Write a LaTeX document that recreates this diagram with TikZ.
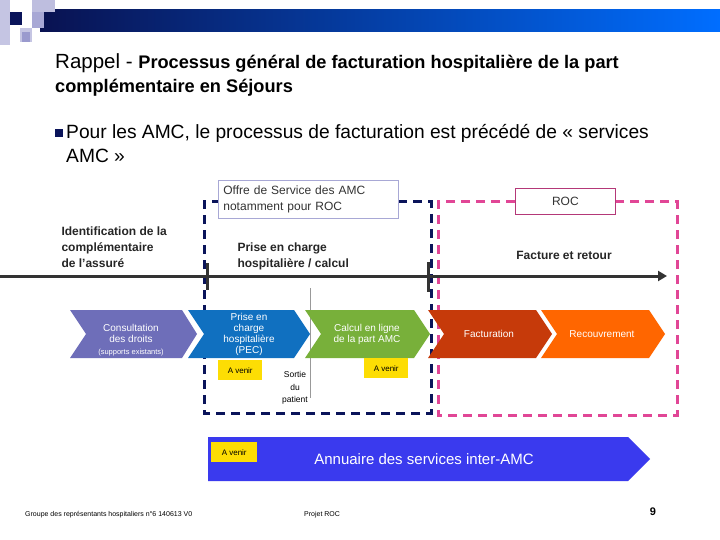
\documentclass[tikz,border=0pt]{standalone}
\usepackage{fontspec}
\usetikzlibrary{arrows.meta}
\setmainfont{Liberation Sans}
\begin{document}
\begin{tikzpicture}[x=1pt,y=-1pt,
  note/.style={fill=yellow!80!orange,draw=none,font=\fontsize{8}{9}\selectfont,inner sep=0pt,minimum width=44pt,minimum height=20pt},
  ctext/.style={text=white,align=center,font=\fontsize{10}{11}\selectfont},
  lab/.style={font=\bfseries\fontsize{12}{16}\selectfont,align=left,anchor=west,text=black!85},
  tick/.style={line width=3pt,draw=black!80}]
\definecolor{navy}{RGB}{10,20,90}
\definecolor{pinkd}{RGB}{225,70,150}
\definecolor{cpurple}{RGB}{110,110,185}
\definecolor{cblue}{RGB}{16,112,192}
\definecolor{cgreen}{RGB}{120,176,58}
\definecolor{cred}{RGB}{198,58,10}
\definecolor{corange}{RGB}{255,102,0}
\definecolor{annu}{RGB}{58,58,238}
\useasboundingbox (0,0) rectangle (720,540);
\fill[white] (0,0) rectangle (720,540);
% top bar
\shade[left color=navy!90!black,right color={rgb,255:red,0;green,110;blue,255}] (40,10) rectangle (720,32);
\fill[cpurple!40] (0,0) rectangle (10,45);
\fill[navy] (10,12) rectangle (22,25);
\fill[cpurple!45] (32,0) rectangle (55,12);
\fill[cpurple!60] (32,12) rectangle (44,28);
\fill[cpurple!40] (20,28) rectangle (32,42);
\fill[cpurple!70] (22,32) rectangle (30,42);
% title
\node[anchor=west,inner sep=0pt] (t1) at (55,63) {\fontsize{20.5}{22}\selectfont Rappel - \bfseries\fontsize{18.2}{20}\selectfont Processus général de facturation hospitalière de la part};
\node[anchor=west,inner sep=0pt] (t2) at (55,88) {\bfseries\fontsize{18.2}{20}\selectfont complémentaire en Séjours};
\fill[navy] (55,129) rectangle (63,137);
\node[anchor=west,inner sep=0pt] (b1) at (66,133) {\fontsize{19.2}{20}\selectfont Pour les AMC, le processus de facturation est précédé de « services};
\node[anchor=west,inner sep=0pt] (b2) at (66,156) {\fontsize{19.2}{20}\selectfont AMC »};
% dashed frames
\draw[navy,line width=3pt,dash pattern=on 9pt off 6pt] (398,202) -- (431,202) -- (431,413) -- (204,413) -- (204,202) -- (218,202);
\draw[pinkd,line width=3pt,dash pattern=on 9pt off 6pt] (515,202) -- (438,202) -- (438,415) -- (677,415) -- (677,202) -- (615,202);
\node[draw=cpurple!60,fill=white,line width=0.8pt,minimum width=180pt,minimum height=38pt,inner sep=5pt,align=left,anchor=north west,text width=170pt,font=\fontsize{12}{16}\selectfont,text=black!80] (offre) at (218,180) {Offre de Service des AMC\\notamment pour ROC};
\node[draw=pinkd!80!black,fill=white,line width=0.8pt,minimum width=100pt,minimum height=26pt,anchor=north west,font=\fontsize{12}{14}\selectfont,text=black!80] (roc) at (515,188) {ROC};
% timeline
\coordinate (ts) at (0,276);
\coordinate (te) at (667,276);
\draw[line width=3pt,black!80,-{Triangle[length=9pt,width=10pt]}] (ts) -- (te);
\draw[tick] (207,263) -- (207,290);
\draw[tick] (428,262) -- (428,292);
\node[lab] (id) at (58,247) {Identification de la\\complémentaire\\de l’assuré};
\node[lab] (pc) at (234,256) {Prise en charge\\hospitalière  / calcul};
\node[font=\bfseries\fontsize{12}{16}\selectfont,text=black!85] (fr) at (564,255) {Facture et retour};
% sortie line
\draw[black!40,line width=0.8pt] (310,288) -- (310,398);
\node[align=center,font=\fontsize{8.5}{12.5}\selectfont] (sortie) at (295,388) {Sortie\\du\\patient};
% chevrons
\fill[cpurple] (70,310) -- (182,310) -- (197,334) -- (182,358) -- (70,358) -- (86,334) -- cycle;
\fill[cblue] (188,310) -- (294,310) -- (310,334) -- (294,358) -- (188,358) -- (204,334) -- cycle;
\fill[cgreen] (305,310) -- (414,310) -- (430,334) -- (414,358) -- (305,358) -- (321,334) -- cycle;
\fill[cred] (428,310) -- (536,310) -- (552,334) -- (536,358) -- (428,358) -- (444,334) -- cycle;
\fill[corange] (541,310) -- (649,310) -- (665,334) -- (649,358) -- (541,358) -- (557,334) -- cycle;
\node[ctext] (c1) at (131,333) {Consultation\\des droits};
\node[text=white,font=\fontsize{7.5}{9}\selectfont] (c1b) at (131,353) {(supports existants)};
\node[ctext] (c2) at (249,334) {Prise en\\charge\\hospitalière\\(PEC)};
\node[ctext] (c3) at (367,334) {Calcul en ligne\\de la part AMC};
\node[ctext] (c4) at (489,334) {Facturation};
\node[ctext] (c5) at (602,334) {Recouvrement};
\node[note,anchor=north west] (n1) at (218,360) {A venir};
\node[note,anchor=north west] (n2) at (364,358) {A venir};
% annuaire
\fill[annu] (208,437) -- (628,437) -- (650,459) -- (628,481) -- (208,481) -- cycle;
\node[note,anchor=north west,minimum width=46pt] (n3) at (211,442) {A venir};
\node[text=white,font=\fontsize{15}{18}\selectfont] (ann) at (424,459) {Annuaire des services inter-AMC};
% footer
\node[anchor=west,font=\fontsize{7}{8}\selectfont,inner sep=0pt] (f1) at (25,515) {Groupe des représentants hospitaliers n°6 140613 V0};
\node[anchor=west,font=\fontsize{7}{8}\selectfont,inner sep=0pt] (f2) at (304,515) {Projet ROC};
\node[font=\bfseries\fontsize{11}{12}\selectfont] (pg) at (653,512) {9};
\end{tikzpicture}
\end{document}
